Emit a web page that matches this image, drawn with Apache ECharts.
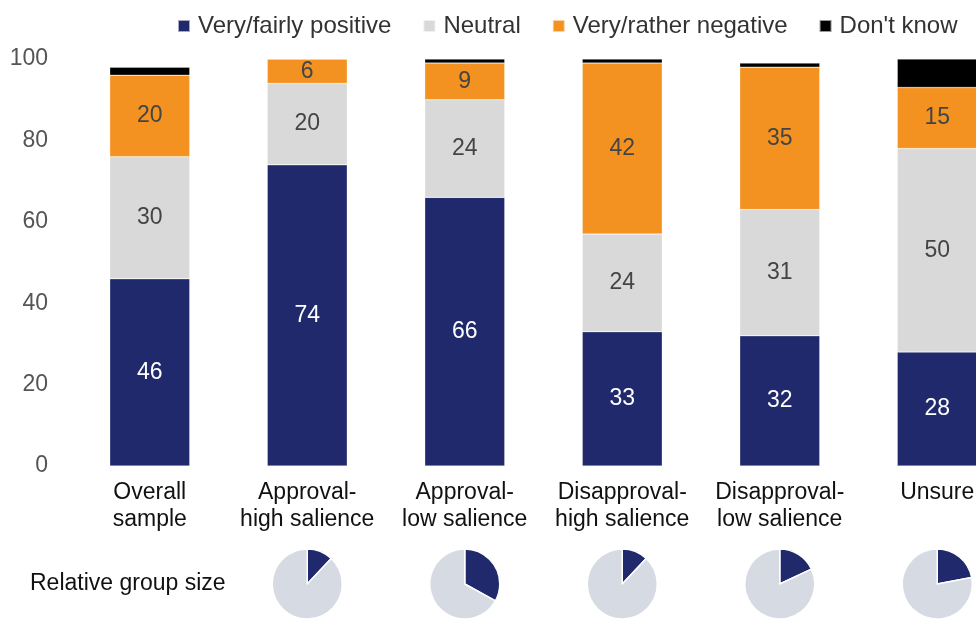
<!DOCTYPE html>
<html>
<head>
<meta charset="utf-8">
<script src="https://cdn.jsdelivr.net/npm/echarts@6/dist/echarts.min.js"></script>
<style>
  html, body { margin: 0; padding: 0; background: #fff; }
  #chart { width: 976px; height: 619px; }
</style>
</head>
<body>
<div id="chart"></div>
<script>
  // categories and values
  const categories = ['Overall\nsample', 'Approval-\nhigh salience', 'Approval-\nlow salience',
    'Disapproval-\nhigh salience', 'Disapproval-\nlow salience', 'Unsure'];
  const positive = [46, 74, 66, 33, 32, 28];
  const neutral = [30, 20, 24, 24, 31, 50];
  const negative = [20, 6, 9, 42, 35, 15];
  const dontKnow = [2, 0, 1, 1, 1, 7];
  // relative group size (share in %) for the small pies, no pie for overall sample
  const groupSize = [null, 12, 33, 12, 18, 22];

  const NAVY = '#1f296b';
  const font = 'Helvetica, "Liberation Sans", Arial, sans-serif';

  let chart = echarts.init(document.getElementById('chart'));

  function barSeries(name, data, color, labelColor) {
    return {
      name: name,
      type: 'bar',
      stack: 'total',
      barWidth: 80,
      data: data,
      itemStyle: { color: color, borderColor: 'rgba(255,255,255,0.6)', borderWidth: 0.5 },
      label: {
        show: labelColor !== null,
        position: 'inside',
        color: labelColor,
        fontSize: 23,
        fontFamily: font
      }
    };
  }

  let series = [
    barSeries('Very/fairly positive', positive, NAVY, '#ffffff'),
    barSeries('Neutral', neutral, '#d9d9d9', '#444444'),
    barSeries('Very/rather negative', negative, '#f39220', '#444444'),
    barSeries("Don't know", dontKnow, '#000000', null)
  ];

  // small pies below the axis
  groupSize.forEach(function (v, i) {
    if (v === null) return;
    series.push({
      type: 'pie',
      id: 'pie' + i,
      radius: 35,
      center: [0, 584],
      silent: true,
      startAngle: 90,
      label: { show: false },
      labelLine: { show: false },
      itemStyle: { borderColor: '#fff', borderWidth: 1.5 },
      data: [
        { value: v, itemStyle: { color: NAVY } },
        { value: 100 - v, itemStyle: { color: '#d6dae3' } }
      ]
    });
  });

  chart.setOption({
    animation: false,
    textStyle: { fontFamily: font },
    legend: {
      data: ['Very/fairly positive', 'Neutral', 'Very/rather negative', "Don't know"],
      left: 172,
      top: 9,
      itemWidth: 12,
      itemHeight: 12,
      itemGap: 31,
      icon: 'rect',
      textStyle: { fontSize: 24, color: '#333', fontFamily: font, padding: [0, 0, 0, 3] }
    },
    // the last category runs past the right edge, so let the grid overflow
    grid: { left: 71, right: -40, top: 59, bottom: 153, outerBoundsMode: 'none', containLabel: false },
    xAxis: {
      type: 'category',
      data: categories,
      axisLine: { show: false },
      axisTick: { show: false },
      axisLabel: {
        fontSize: 23,
        color: '#111',
        lineHeight: 27,
        margin: 13,
        verticalAlign: 'top',
        interval: 0
      }
    },
    yAxis: {
      type: 'value',
      min: 0,
      max: 100,
      interval: 20,
      splitLine: { show: false },
      axisLabel: { fontSize: 23, color: '#555', margin: 23 }
    },
    graphic: [{
      type: 'text',
      left: 30,
      top: 572,
      style: { text: 'Relative group size', fontSize: 23, fill: '#111', fontFamily: font }
    }],
    series: series
  });

  // line the pies up under their bars
  let pieUpdates = [];
  groupSize.forEach(function (v, i) {
    if (v === null) return;
    let px = chart.convertToPixel({ xAxisIndex: 0 }, i);
    pieUpdates.push({ id: 'pie' + i, center: [px, 584] });
  });
  chart.setOption({ series: pieUpdates });
</script>
</body>
</html>
